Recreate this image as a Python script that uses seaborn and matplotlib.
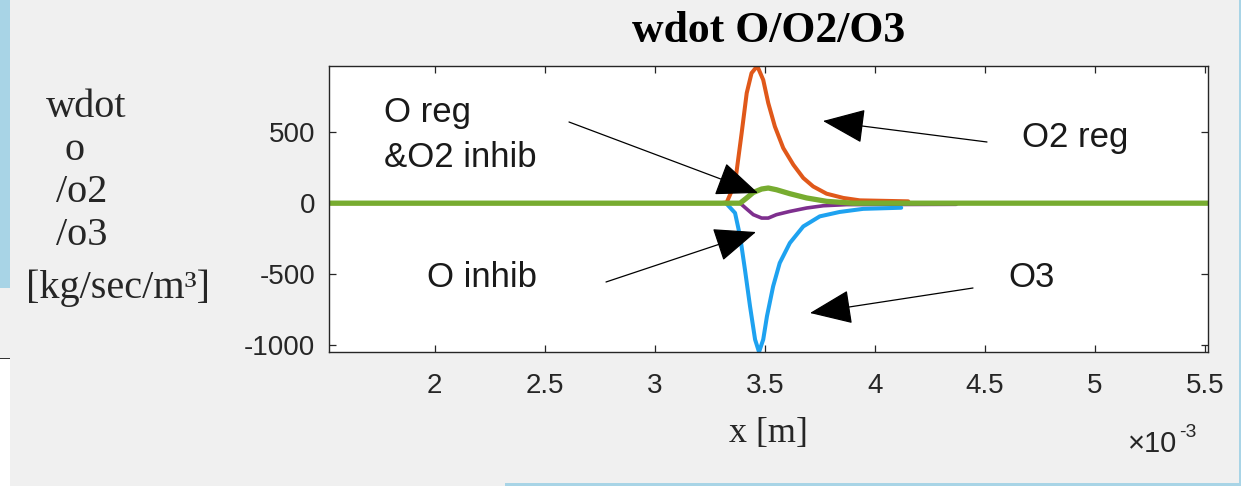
import numpy as np
import pandas as pd
import seaborn as sns
import matplotlib
matplotlib.use("Agg")
import matplotlib.pyplot as plt
from matplotlib.patches import Rectangle, FancyArrowPatch

# ---- data (x in units of 1e-3 m) ----
x_range = [1.52, 5.514]

o2_reg_x = [1.52, 3.30, 3.327, 3.365, 3.395, 3.418, 3.44, 3.466, 3.493, 3.516, 3.546,
            3.584, 3.63, 3.675, 3.72, 3.781, 3.857, 3.932, 4.152]
o2_reg_y = [0, 0, 5, 142, 495, 777, 918, 968, 870, 706, 541,
            389, 271, 178, 118, 67, 37, 20, 13]

o_inhib_x = [3.388, 3.418, 3.448, 3.486, 3.516, 3.553, 3.614, 3.69, 3.766, 3.872, 4.37]
o_inhib_y = [0, -41, -81, -105, -105, -81, -58, -34, -18, -10, -8]

o3_x = [3.327, 3.365, 3.388, 3.41, 3.433, 3.456, 3.474, 3.493, 3.51, 3.538, 3.568,
        3.614, 3.675, 3.75, 3.84, 3.947, 4.12]
o3_y = [-5, -69, -234, -469, -727, -962, -1050, -962, -798, -587, -422,
        -281, -164, -93, -62, -40, -32]

o_reg_x = [1.52, 3.388, 3.418, 3.448, 3.486, 3.516, 3.553, 3.614, 3.69, 3.781, 3.90, 5.514]
o_reg_y = [0, 0, 37, 76, 100, 107, 95, 67, 37, 13, 0, 0]

x_ticks = [2, 2.5, 3, 3.5, 4, 4.5, 5, 5.5]
x_tick_labels = ["2", "2.5", "3", "3.5", "4", "4.5", "5", "5.5"]
y_ticks = [-1000, -500, 0, 500]
y_tick_labels = ["-1000", "-500", "0", "500"]

title = "wdot O/O2/O3"
ylabel_lines = ["wdot", "o", "/o2", "/o3", "[kg/sec/m\u00b3]"]
xlabel = "x [m]"

# ---- style ----
sns.set_theme(style="ticks")
plt.rcParams["font.family"] = ["Liberation Sans", "DejaVu Sans"]

W, H = 1241, 486
fig = plt.figure(figsize=(W / 100, H / 100), dpi=100)
fig.patch.set_facecolor("#F0F0F0")

def fx(px):
    return px / W

def fy(py):
    return 1 - py / H

# screenshot artifacts
fig.patches.append(Rectangle((0, fy(288)), fx(10), 288 / H, transform=fig.transFigure,
                             facecolor="#A8D4E6", edgecolor="none", zorder=0))
fig.patches.append(Rectangle((0, 0), fx(10), fy(358), transform=fig.transFigure,
                             facecolor="white", edgecolor="none", zorder=0))
fig.patches.append(Rectangle((0, fy(359)), fx(10), 1.5 / H, transform=fig.transFigure,
                             facecolor="#333333", edgecolor="none", zorder=0))
fig.patches.append(Rectangle((fx(505), 0), fx(W - 505), 3 / H, transform=fig.transFigure,
                             facecolor="#A8D4E6", edgecolor="none", zorder=0))
fig.patches.append(Rectangle((fx(1239), 0), fx(2), 1, transform=fig.transFigure,
                             facecolor="#A8D4E6", edgecolor="none", zorder=0))

ax = fig.add_axes([fx(329), fy(352), fx(1208) - fx(329), fy(66) - fy(352)])
ax.set_facecolor("white")

series = [
    (o2_reg_x, o2_reg_y, "#E0581A", 2.9),
    (o_inhib_x, o_inhib_y, "#7E2F8E", 2.6),
    (o3_x, o3_y, "#1EA2F0", 2.9),
    (o_reg_x, o_reg_y, "#77AC30", 3.8),
]
for xs, ys, c, lw in series:
    df = pd.DataFrame({"x": xs, "y": ys})
    sns.lineplot(data=df, x="x", y="y", ax=ax, color=c, linewidth=lw,
                 sort=False, estimator=None, legend=False)

ax.set_xlim(x_range)
ax.set_ylim(-1050, 968)
ax.set_xticks(x_ticks)
ax.set_xticklabels(x_tick_labels)
ax.set_yticks(y_ticks)
ax.set_yticklabels(y_tick_labels)
ax.set_xlabel("")
ax.set_ylabel("")
for s in ax.spines.values():
    s.set_color("#262626")
    s.set_linewidth(1.0)
    s.set_visible(True)
ax.tick_params(axis="both", direction="in", length=5, width=0.9, color="#262626",
               top=True, right=True, labelcolor="#262626", labelsize=20)
ax.tick_params(axis="x", pad=15)
ax.tick_params(axis="y", pad=10)

# title and labels
fig.text(fx(769), fy(42), title, ha="center", va="baseline",
         family="Liberation Serif", weight="bold", fontsize=31.5, color="black")
fig.text(fx(768), fy(442), xlabel, ha="center", va="baseline",
         family="Liberation Serif", fontsize=26, color="#262626")
ylab_pos = [(46, 117), (64, 160), (56, 202), (56, 245), (26, 298)]
for line, (px, py) in zip(ylabel_lines, ylab_pos):
    fig.text(fx(px), fy(py), line, ha="left", va="baseline",
             family="Liberation Serif", fontsize=29, color="#262626")

# x10^-3 multiplier
fig.text(fx(1128), fy(452), "\u00d710", ha="left", va="baseline",
         fontsize=21, color="#262626")
fig.text(fx(1179), fy(437), "-3", ha="left", va="baseline",
         fontsize=14, color="#262626")

# annotations
ann_texts = [("O reg", 384, 122), ("&O2 inhib", 384, 167), ("O inhib", 427, 287),
             ("O2 reg", 1022, 147), ("O3", 1008, 287)]
for t, px, py in ann_texts:
    fig.text(fx(px), fy(py), t, ha="left", va="baseline", fontsize=25, color="#1a1a1a")

arrows = [((569, 122), (758, 193)), ((606, 282), (756, 232)),
          ((987, 142), (823, 121)), ((973, 288), (810, 313))]
for (x0, y0), (x1, y1) in arrows:
    fig.patches.append(FancyArrowPatch((fx(x0), fy(y0)), (fx(x1), fy(y1)),
                                       transform=fig.transFigure,
                                       arrowstyle="-|>,head_length=1.35,head_width=0.55",
                                       mutation_scale=20, color="black", lw=0.9,
                                       shrinkA=0, shrinkB=0, zorder=10))

fig.savefig("out.png", dpi=100, facecolor=fig.get_facecolor())
